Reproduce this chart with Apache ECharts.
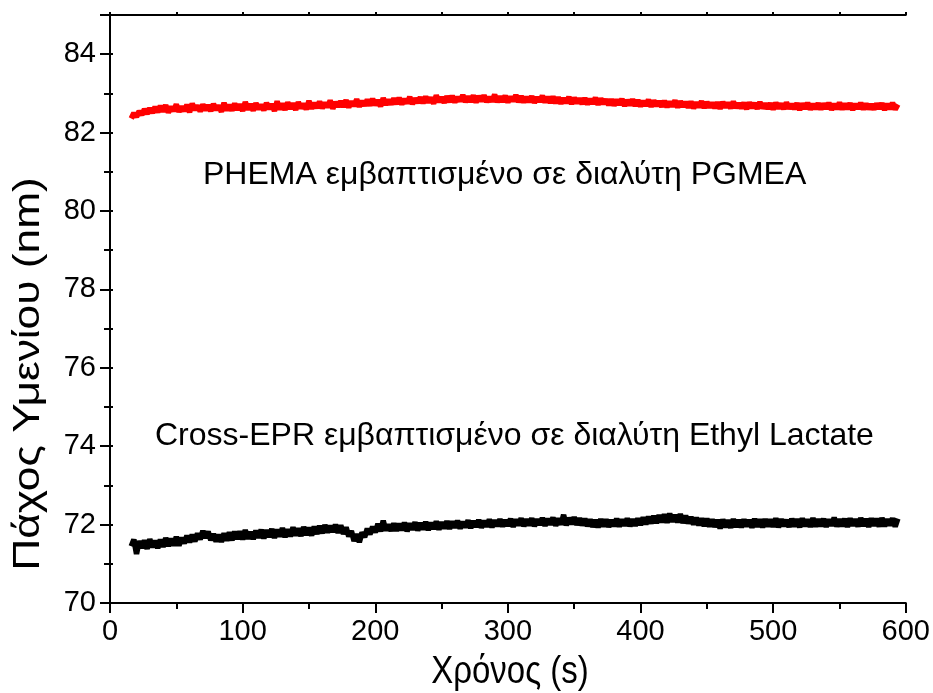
<!DOCTYPE html>
<html><head><meta charset="utf-8">
<script src="https://cdn.jsdelivr.net/npm/echarts@6/dist/echarts.min.js"></script>
<style>html,body{margin:0;padding:0;background:#fff}#c{width:933px;height:693px}</style>
</head><body><div id="c"></div>
<script>
// Sampling grid (time, s): first sample and spacing
var timeStart = 16, timeStep = 2;
// PHEMA in PGMEA (red), film thickness in nm, one value per 2 s from 16 s to 594 s
var phemaValues = [
82.36,82.50,82.40,82.55,82.45,82.60,82.48,82.62,82.50,82.66,
82.52,82.68,82.54,82.70,82.51,82.66,82.55,82.72,82.53,82.67,
82.55,82.71,82.52,82.74,82.58,82.69,82.54,82.72,82.57,82.70,
82.55,82.73,82.58,82.69,82.53,82.76,82.57,82.71,82.56,82.74,
82.58,82.72,82.55,82.78,82.59,82.73,82.56,82.75,82.60,82.71,
82.57,82.76,82.60,82.73,82.55,82.80,82.59,82.74,82.58,82.77,
82.61,82.75,82.58,82.78,82.62,82.74,82.59,82.81,82.61,82.76,
82.63,82.79,82.62,82.76,82.65,82.82,82.61,82.78,82.66,82.80,
82.66,82.83,82.64,82.80,82.68,82.85,82.66,82.81,82.69,82.84,
82.69,82.86,82.70,82.83,82.67,82.88,82.71,82.84,82.72,82.87,
82.73,82.89,82.72,82.86,82.75,82.91,82.73,82.87,82.76,82.90,
82.75,82.92,82.77,82.89,82.74,82.95,82.78,82.90,82.76,82.93,
82.78,82.94,82.77,82.91,82.80,82.96,82.78,82.92,82.79,82.95,
82.77,82.93,82.80,82.95,82.78,82.91,82.79,82.97,82.78,82.92,
82.79,82.94,82.77,82.92,82.80,82.96,82.78,82.93,82.77,82.91,
82.78,82.93,82.76,82.90,82.79,82.94,82.77,82.91,82.76,82.92,
82.75,82.90,82.74,82.88,82.76,82.91,82.73,82.89,82.75,82.87,
82.73,82.88,82.72,82.86,82.74,82.89,82.71,82.87,82.73,82.85,
82.70,82.85,82.69,82.84,82.71,82.86,82.68,82.83,82.70,82.85,
82.68,82.83,82.67,82.81,82.69,82.84,82.66,82.82,82.68,82.80,
82.66,82.81,82.65,82.79,82.67,82.82,82.64,82.80,82.66,82.78,
82.64,82.79,82.62,82.77,82.65,82.80,82.63,82.78,82.64,82.76,
82.63,82.77,82.61,82.78,82.64,82.76,82.62,82.79,82.63,82.75,
82.62,82.76,82.60,82.77,82.63,82.75,82.61,82.78,82.62,82.74,
82.61,82.75,82.59,82.76,82.62,82.74,82.60,82.77,82.61,82.73,
82.60,82.75,82.58,82.74,82.61,82.76,82.59,82.73,82.60,82.75,
82.59,82.74,82.61,82.76,82.58,82.73,82.60,82.77,82.59,82.74,
82.60,82.75,82.58,82.73,82.61,82.76,82.59,82.74,82.60,82.72,
82.59,82.74,82.61,82.75,82.58,82.73,82.60,82.76,82.59,82.72
];
// Cross-EPR in Ethyl Lactate (black)
var eprValues = [
71.45,71.62,71.25,71.58,71.40,71.60,71.38,71.63,71.42,71.59,
71.40,71.62,71.43,71.66,71.45,71.64,71.47,71.69,71.46,71.67,
71.52,71.72,71.55,71.74,71.57,71.78,71.62,71.84,71.66,71.82,
71.60,71.76,71.57,71.74,71.56,71.78,71.59,71.80,71.60,71.82,
71.63,71.83,71.62,71.86,71.64,71.81,71.63,71.85,71.66,71.87,
71.65,71.86,71.68,71.89,71.66,71.87,71.70,71.91,71.68,71.88,
71.70,71.93,71.72,71.90,71.71,71.94,71.73,71.92,71.72,71.95,
71.76,71.97,71.78,71.99,71.80,71.97,71.81,72.00,71.79,71.98,
71.76,71.93,71.70,71.84,71.58,71.76,71.55,71.80,71.68,71.90,
71.75,71.95,71.80,72.02,71.83,72.10,71.85,72.00,71.84,72.03,
71.84,72.02,71.86,72.05,71.83,72.03,71.87,72.06,71.85,72.04,
71.88,72.07,71.86,72.05,71.89,72.08,71.87,72.06,71.90,72.09,
71.89,72.08,71.92,72.10,71.90,72.07,71.93,72.11,71.91,72.09,
71.94,72.12,71.92,72.10,71.95,72.13,71.93,72.11,71.96,72.14,
71.95,72.12,71.97,72.15,71.94,72.13,71.98,72.16,71.96,72.14,
71.98,72.16,71.96,72.14,71.99,72.17,71.97,72.15,72.00,72.18,
71.97,72.16,72.00,72.25,71.98,72.17,72.01,72.19,71.99,72.16,
71.98,72.15,71.96,72.13,71.94,72.12,71.93,72.14,71.95,72.13,
71.94,72.12,71.96,72.15,71.95,72.13,71.97,72.16,71.96,72.14,
71.97,72.16,71.99,72.18,72.01,72.20,72.03,72.22,72.04,72.24,
72.06,72.26,72.05,72.28,72.07,72.25,72.06,72.27,72.04,72.23,
72.03,72.20,72.00,72.18,71.98,72.16,71.96,72.15,71.95,72.13,
71.94,72.12,71.90,72.13,71.93,72.11,71.92,72.14,71.94,72.12,
71.93,72.13,71.95,72.12,71.92,72.15,71.94,72.13,71.93,72.14,
71.95,72.13,71.94,72.16,71.93,72.14,71.96,72.12,71.94,72.15,
71.95,72.14,71.93,72.16,71.96,72.13,71.94,72.17,71.95,72.14,
71.96,72.15,71.94,72.13,71.97,72.18,71.95,72.14,71.96,72.15,
71.94,72.16,71.97,72.14,71.95,72.17,71.96,72.15,71.94,72.16,
71.97,72.15,71.95,72.17,71.96,72.14,71.98,72.16,71.95,72.15
];
var xTitle = 'Χρόνος (s)';
var yTitle = 'Πάχος Υμενίου (nm)';
var phemaLabel = 'PHEMA εμβαπτισμένο σε διαλύτη PGMEA';
var eprLabel = 'Cross-EPR εμβαπτισμένο σε διαλύτη Ethyl Lactate';
var xRange = [0, 600], xInterval = 100;
var yRange = [70, 85], yInterval = 2;

function pairs(vals) {
  return vals.map(function (v, i) { return [timeStart + i * timeStep, v]; });
}
var FONT = 'Liberation Sans, Arial, sans-serif';
var chart = echarts.init(document.getElementById('c'), null, {renderer: 'canvas'});
var axisLine = {lineStyle: {color: '#000', width: 2}};
chart.setOption({
  animation: false,
  backgroundColor: '#fff',
  grid: {left: 110, right: 23, top: 15, bottom: 90, containLabel: false},
  xAxis: [{
    type: 'value', min: xRange[0], max: xRange[1], interval: xInterval,
    axisLine: axisLine, splitLine: {show: false},
    axisTick: {show: true, length: 10, inside: false, lineStyle: {color: '#000', width: 2}},
    minorTick: {show: true, splitNumber: 2, length: 6, lineStyle: {color: '#000', width: 2}},
    axisLabel: {color: '#000', fontSize: 29, fontFamily: FONT, margin: 14}
  }, {
    type: 'value', position: 'top', min: xRange[0], max: xRange[1], interval: xInterval,
    axisLine: axisLine, splitLine: {show: false},
    axisTick: {show: true, length: 3, lineStyle: {color: '#000', width: 2}},
    minorTick: {show: true, splitNumber: 2, length: 3, lineStyle: {color: '#000', width: 2}},
    axisLabel: {show: false}
  }],
  yAxis: [{
    type: 'value', min: yRange[0], max: yRange[1], interval: yInterval,
    axisLine: axisLine, splitLine: {show: false},
    axisTick: {show: true, length: 10, lineStyle: {color: '#000', width: 2}},
    minorTick: {show: true, splitNumber: 2, length: 6, lineStyle: {color: '#000', width: 2}},
    axisLabel: {color: '#000', fontSize: 29, fontFamily: FONT, margin: 14, showMaxLabel: false}
  }, {
    type: 'value', position: 'right', min: yRange[0], max: yRange[1], interval: yInterval,
    axisLine: axisLine, splitLine: {show: false},
    axisTick: {show: true, length: 3, lineStyle: {color: '#000', width: 2}},
    minorTick: {show: true, splitNumber: 2, length: 3, lineStyle: {color: '#000', width: 2}},
    axisLabel: {show: false}
  }],
  series: [{
    type: 'line', xAxisIndex: 0, yAxisIndex: 0, data: pairs(phemaValues),
    showSymbol: false, symbol: 'none', sampling: null,
    lineStyle: {color: '#ff0000', width: 5.5}
  }, {
    type: 'line', xAxisIndex: 0, yAxisIndex: 0, data: pairs(eprValues),
    showSymbol: false, symbol: 'none', sampling: null,
    lineStyle: {color: '#000000', width: 5.5}
  }],
  graphic: [{
    type: 'text', left: 203, top: 159, z: 100,
    style: {text: phemaLabel, fill: '#000', fontSize: 32, fontFamily: FONT}
  }, {
    type: 'text', left: 155, top: 420, z: 100,
    style: {text: eprLabel, fill: '#000', fontSize: 32, fontFamily: FONT}
  }, {
    type: 'text', x: 510, y: 672, scaleY: 1.18, z: 100,
    style: {text: xTitle, fill: '#000', fontSize: 33, fontFamily: FONT,
            align: 'center', verticalAlign: 'middle'}
  }, {
    type: 'text', x: 29, y: 374, rotation: Math.PI / 2, scaleX: 1.23, z: 100,
    style: {text: yTitle, fill: '#000', fontSize: 36, fontFamily: FONT,
            align: 'center', verticalAlign: 'middle'}
  }]
});
</script>
</body></html>
